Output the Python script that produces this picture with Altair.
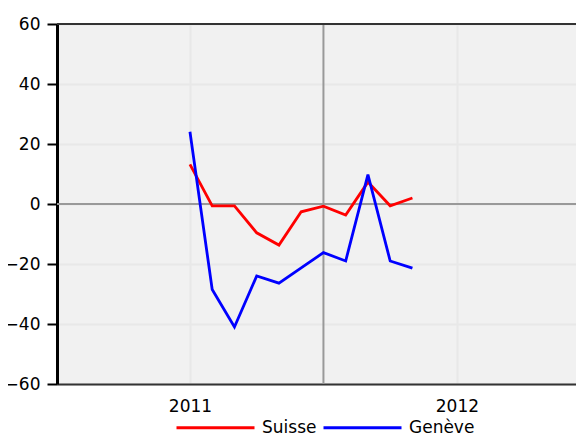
import altair as alt
import pandas as pd

months = ["2011-01", "2011-02", "2011-03", "2011-04", "2011-05", "2011-06",
          "2011-07", "2011-08", "2011-09", "2011-10", "2011-11"]
suisse = [13.2, -0.6, -0.6, -9.6, -13.7, -2.6, -0.7, -3.7, 7.3, -0.6, 2.0]
geneve = [24.1, -28.5, -41.0, -24.0, -26.4, -21.3, -16.2, -19.0, 9.8, -19.0, -21.4]
series_names = ["Suisse", "Genève"]
series_colors = ["#ff0000", "#0000ff"]
y_ticks = [-60, -40, -20, 0, 20, 40, 60]
x_ticks = [2011, 2012]

def to_year(m):
    y, mo = m.split("-")
    return int(y) + (int(mo) - 1) / 12.0

rows = []
for name, vals in zip(series_names, [suisse, geneve]):
    for m, v in zip(months, vals):
        rows.append({"t": to_year(m), "value": v, "series": name})
df = pd.DataFrame(rows)

FONT = "DejaVu Sans"
GRID = "#e8e8e8"
xscale = alt.Scale(domain=[2010.502, 2012.446], nice=False, zero=False)
yscale = alt.Scale(domain=[-60, 60], nice=False)

lines = alt.Chart(df).mark_line(strokeWidth=2.8).encode(
    x=alt.X("t:Q", scale=xscale, title=None,
            axis=alt.Axis(values=x_ticks, format="d", grid=True, gridColor=GRID,
                          gridWidth=2, ticks=False, domainColor="#333333",
                          domainWidth=2, labelPadding=14, labelFontSize=17,
                          labelColor="#000000", labelFont=FONT)),
    y=alt.Y("value:Q", scale=yscale, title=None,
            axis=alt.Axis(values=y_ticks, grid=True, gridColor=GRID, gridWidth=2,
                          domainColor="#000000", domainWidth=3, tickColor="#000000",
                          tickSize=10, tickWidth=2, labelPadding=7, labelFontSize=17,
                          labelColor="#000000", labelFont=FONT)),
    color=alt.Color("series:N",
                    scale=alt.Scale(domain=series_names, range=series_colors),
                    sort=series_names,
                    legend=alt.Legend(title=None, orient="none", direction="horizontal",
                                      legendX=118, legendY=363,
                                      symbolType="stroke", symbolSize=6084,
                                      symbolStrokeWidth=3, labelFontSize=17,
                                      labelFont=FONT, labelColor="#000000",
                                      labelOffset=6, columnPadding=0)),
)

zero_line = alt.Chart(pd.DataFrame({"v": [0]})).mark_rule(color="#999999", strokeWidth=2).encode(
    y=alt.Y("v:Q", scale=yscale)
)
mid_line = alt.Chart(pd.DataFrame({"v": [2011.5]})).mark_rule(color="#999999", strokeWidth=2).encode(
    x=alt.X("v:Q", scale=xscale)
)
top_line = alt.Chart(pd.DataFrame({"v": [0]})).mark_rule(color="#333333", strokeWidth=2).encode(
    y=alt.value(0)
)

chart = alt.layer(zero_line, mid_line, top_line, lines).properties(
    width=519, height=360,
    autosize=alt.AutoSizeParams(type="none"),
    padding={"left": 49, "top": 16, "right": 0, "bottom": 50},
    background="#ffffff",
).configure_view(fill="#f1f1f1", stroke=None)

chart.save("out.html", embed_options={"renderer": "svg", "actions": False})
